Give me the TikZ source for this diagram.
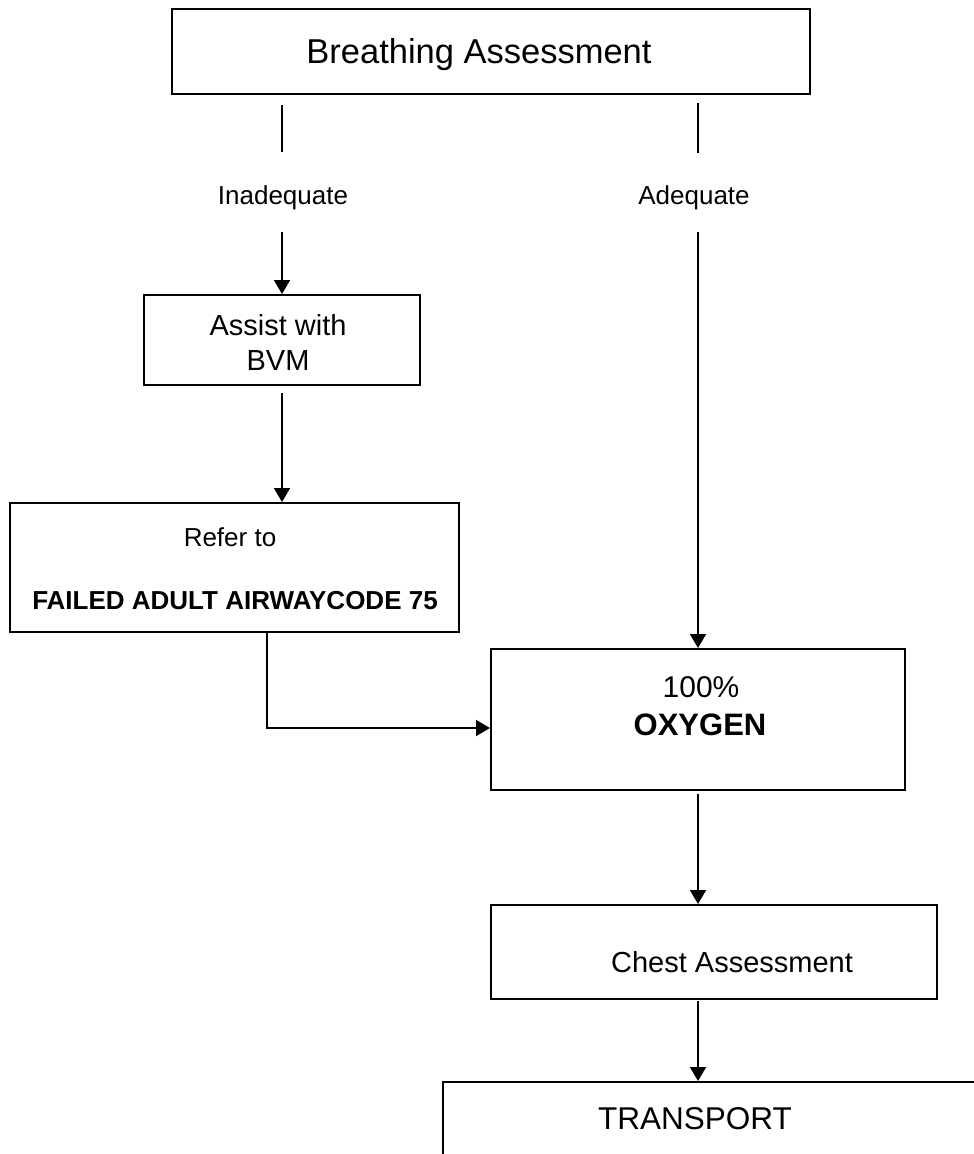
\documentclass[tikz,border=0pt]{standalone}
\usepackage{fontspec}
\setmainfont{Liberation Sans}
\usetikzlibrary{arrows.meta}
\begin{document}
\begin{tikzpicture}[x=1pt,y=-1pt,
  box/.style={draw, line width=2pt, rectangle, inner sep=0pt},
  conn/.style={line width=1.8pt, line join=miter},
  arr/.style={conn, -{Triangle[width=16pt,length=14pt]}},
  txt/.style={anchor=base, inner sep=0pt, font=\fontsize{#1}{#1}\selectfont},
]
\useasboundingbox (0,0) rectangle (974,1154);
\clip (0,0) rectangle (974,1154);

% boxes
\node[box, minimum width=638pt, minimum height=85pt]  (top)       at (491,51.5)  {};
\node[box, minimum width=276pt, minimum height=90pt]  (assist)    at (282,340)   {};
\node[box, minimum width=449pt, minimum height=129pt] (refer)     at (234.5,567.5) {};
\node[box, minimum width=414pt, minimum height=141pt] (oxygen)    at (698,719.5) {};
\node[box, minimum width=446pt, minimum height=94pt]  (chest)     at (714,952)   {};
\node[box, minimum width=557pt, minimum height=118pt] (transport) at (721.5,1141) {};

% texts
\node[txt=34.5] (ttop)    at (479,63)   {Breathing Assessment};
\node[txt=26]   (tinad)   at (283,204)  {Inadequate};
\node[txt=26]   (tadeq)   at (694,204)  {Adequate};
\node[txt=29]   (tassist) at (278,335)  {Assist with};
\node[txt=29]   (tbvm)    at (278,370)  {BVM};
\node[txt=26]   (trefer)  at (230,546)  {Refer to};
\node[txt=26]   (tfailed) at (235,609)  {\bfseries FAILED ADULT AIRWAYCODE 75};
\node[txt=30]   (tpct)    at (701,697)  {100\%};
\node[txt=31]   (toxy)    at (700,735)  {\bfseries OXYGEN};
\node[txt=29]   (tchest)  at (732,972)  {Chest Assessment};
\node[txt=31.5] (ttrans)  at (695,1129) {TRANSPORT};

% free ends of the split connectors
\coordinate (inadA) at (282,105);
\coordinate (inadB) at (282,152);
\coordinate (inadC) at (282,232);
\coordinate (adeqA) at (698,103);
\coordinate (adeqB) at (698,153);
\coordinate (adeqC) at (698,232);
\coordinate (assistOut) at (282,393);
\coordinate (bend) at (267,728);
\coordinate (oxyOut) at (698,794);
\coordinate (chestOut) at (698,1001);

% connectors
\draw[conn] (inadA) -- (inadB);
\draw[arr]  (inadC) -- (assist.north);
\draw[conn] (adeqA) -- (adeqB);
\draw[arr]  (adeqC) -- (oxygen.north);
\draw[arr]  (assistOut) -- (refer.north -| assistOut);
\draw[arr]  (refer.south -| bend) -- (bend) -- (oxygen.west |- bend);
\draw[arr]  (oxyOut) -- (chest.north -| oxyOut);
\draw[arr]  (chestOut) -- (transport.north -| chestOut);
\end{tikzpicture}
\end{document}
